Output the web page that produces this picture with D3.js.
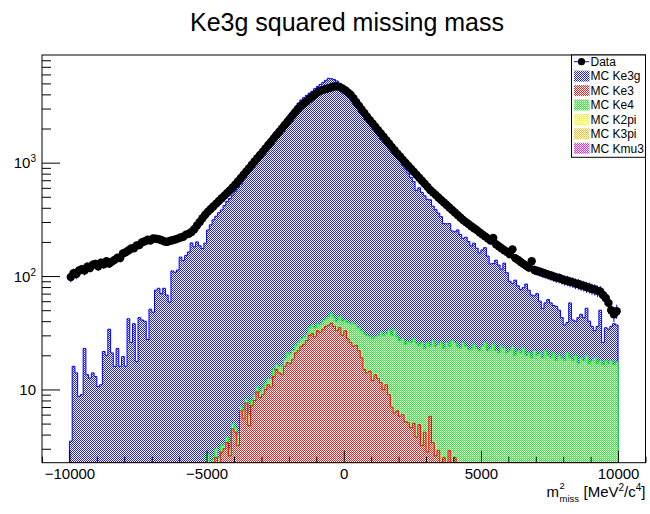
<!DOCTYPE html>
<html><head><meta charset="utf-8">
<script src="https://cdn.jsdelivr.net/npm/d3@7"></script>
<style>
body{margin:0;background:#fff}
svg{display:block}
text{font-family:"Liberation Sans",Arial,Helvetica,sans-serif;fill:#000}
</style>
</head><body>
<svg id="c" width="650" height="514"></svg>
<script>
// Histogram binning: 200 bins of 100 MeV^2/c^4 from -10000 to 10000
const binLow = -10000, binWidth = 100, nBins = 200;

// Data counts per bin
const data = [
  98,106,104,112,115,112,121,118,126,128,
  122,131,127,135,129,134,139,145,144,158,
  162,168,175,176,186,188,199,203,209,206,
  215,213,211,208,203,200,204,207,210,214,
  219,222,232,236,245,259,279,300,323,347,
  370,390,412,435,459,485,512,541,570,603,
  641,686,733,783,838,895,957,1023,1094,1169,
  1250,1337,1432,1531,1637,1752,1875,2005,2147,2296,
  2455,2630,2812,3006,3184,3327,3483,3648,3811,3990,
  4169,4305,4385,4457,4539,4624,4699,4732,4656,4519,
  4345,4169,3981,3698,3428,3184,2951,2742,2541,2373,
  2218,2071,1936,1808,1690,1578,1475,1377,1288,1203,
  1132,1064,1000,942,885,832,783,736,692,652,
  612,575,547,520,493,469,446,424,403,383,
  363,345,328,312,299,287,275,264,254,243,
  233,224,215,206,217,191,183,176,169,163,
  156,172,144,139,133,128,123,119,135,113,
  111,109,107,105,103,101,99,97,96,94,
  92,91,89,88,86,85,83,82,80,79,
  77,76,74,73,68,64,58,50,46,49
];

// MC Ke3g (signal) per bin
const ke3g = [
  3.5,16,14,8.7,9,23,13.5,12.6,14,13,
  10.6,11,21.6,20,34,21,16,23,16,19.5,
  16,42,26,38,17.6,43,41,40,27.6,51,
  48,75,78,70,78,68,59,111,108,113,
  147,137,152,163,196,181,200,185,175,195,
  252,283,311,334,360,380,415,452,479,513,
  555,605,640,715,790,848,921,1000,1087,1160,
  1287,1398,1519,1631,1770,1876,2014,2163,2290,2489,
  2673,2868,3078,3330,3544,3712,3886,4067,4220,4456,
  4661,4861,5065,5279,5502,5453,5357,5210,4956,4670,
  4344,4044,3764,3501,3252,3027,2818,2624,2442,2252,
  2056,1881,1720,1568,1481,1398,1316,1232,1147,1075,
  1006,929,854,781,715,653,545,576,521,487,
  449,446,386,361,334,308,267,263,266,223,
  220,231,210,189,196,179,162,170,153,138,
  146,152,128,105,104,116,104,91,107,86,
  68,62,72,60,55,56,65,54,49,45,
  50,39,33,36,42,39,34,36,30,24,
  19,18,39,23,20,26,27,25,32,23,
  18,14,19,32,9.5,17,17,18,21.5,19.5
];

// MC Ke3 per bin
const ke3 = [
  0,0,0,0,0,0,0,0,0,0,
  0,0,0,0,0,0,0,0,0,0,
  0,0,0,0,0,0,0,0,0,0,
  0,0,0,0,0,0,0,0,0,0,
  0,0,0,0,0,0,0,0,0,0,
  0,0,0,2.5,0,2.8,3.0,3.4,2.6,4.5,
  4.2,3.2,6.5,5.5,7.6,4.8,7.2,8.0,9.5,8.5,
  9.0,10,11,10.5,13,15,14,13.5,16,17.3,
  17,18.5,21,22,24,25,27,30,31,29,
  33,32,34,36,37,38.5,36,33,35,30,
  33,28,26,24,24.5,22,19,15,14,14.5,
  12,13.5,12.5,11.5,10,11,9,7,6.2,6.5,
  5.8,6,5.2,5.1,4.6,5,3.8,4.9,3.2,4.2,
  2.8,5.8,3.4,2.6,2.9,0,2.5,0,2.9,0,
  2.5,0,0,0,0,0,0,0,0,0,
  0,0,0,0,0,0,0,0,0,0,
  0,0,0,0,0,0,0,0,0,0,
  0,0,0,0,0,0,0,0,0,0,
  0,0,0,0,0,0,0,0,0,0,
  0,0,0,0,0,0,0,0,0,0
];

// MC Ke4 per bin
const ke4 = [
  0,0,0,0,0,0,0,0,0,0,
  0,0,0,0,0,0,0,0,0,0,
  0,0,0,0,0,0,0,0,0,0,
  0,0,0,0,0,0,0,0,0,0,
  0,0,0,0,0,0,0,0,0,0,
  2.7,0,2.4,0.5,2.5,0.4,0.3,0.4,0.4,0.5,
  0.4,0.8,0.5,1.0,0.6,1.2,0.8,1.0,1.0,1.0,
  1.3,1.4,1.5,2.0,2.0,1.5,2.0,2.5,2.5,3.7,
  3.5,3.5,3.5,4,4,4,4,5,6,6,
  5,5.5,6,6,7,8.5,7,7,9,10,
  8,11,12,14.6,12.5,13,14,16,16,15,
  16,15.5,17.5,20.5,20,20,24.5,23,27.3,22.5,
  21.2,22,19.8,21.4,21.4,23,21.7,19.6,22.7,18.8,
  23.2,18.2,23.6,21.4,22.1,26,20.5,25.9,21.1,27,
  23.4,24,23,26,24,22.6,22.6,25,23,22,
  24,26,22,23,25,22,21,24,23,21,
  22,24,20,22,21,23,20,21,19,22,
  20,21,19,22,20,19,21,18,20,19,
  18,21,19,18,20,17,19,18,20,17,
  18,19,17,18,16.5,18,17,18,16.5,17.5
];

const xMajorTicks = [-10000, -5000, 0, 5000, 10000];
const xMinorTicks = d3.range(-11000, 11001, 1000).filter(v => v % 5000 !== 0);
const yMajorTicks = [10, 100, 1000];
const yMinorTicks = [3,4,5,6,7,8,9,20,30,40,50,60,70,80,90,200,300,400,500,600,700,800,900,2000,3000,4000,5000,6000,7000,8000];
const yTickExponents = ["", "2", "3"];

const legendLabels = ["Data", "MC Ke3g", "MC Ke3", "MC Ke4", "MC K2pi", "MC K3pi", "MC Kmu3"];
const legendColors = [null, "#0000ff", "#ff0000", "#00ff00", "#ffff00", "#ffb400", "#ff00ff"];

const title = "Ke3g squared missing mass";

// ---- layout ----
const frame = {l: 42, r: 645.5, t: 55, b: 462.7};
const svg = d3.select("#c");

const x = d3.scaleLinear().domain([-11000, 11000]).range([frame.l, frame.r]);
const y = d3.scaleLog().domain([2.26, 8900]).range([frame.b, frame.t]);

// checkered fill patterns (coloured pixels softened slightly towards white)
const defs = svg.append("defs");
function checker(id, col) {
  const dot = d3.interpolateRgb(col, "#fff")(0.12);
  const p = defs.append("pattern").attr("id", id)
    .attr("width", 2).attr("height", 2).attr("patternUnits", "userSpaceOnUse");
  p.append("rect").attr("width", 2).attr("height", 2).attr("fill", "#fff")
    .attr("shape-rendering", "crispEdges");
  p.append("rect").attr("width", 1).attr("height", 1).attr("fill", dot)
    .attr("shape-rendering", "crispEdges");
  p.append("rect").attr("x", 1).attr("y", 1).attr("width", 1).attr("height", 1).attr("fill", dot)
    .attr("shape-rendering", "crispEdges");
}
legendColors.forEach((c, i) => { if (c) checker("pat" + i, c); });

defs.append("clipPath").attr("id", "frameClip").append("rect")
  .attr("x", frame.l).attr("y", frame.t)
  .attr("width", frame.r - frame.l).attr("height", frame.b - frame.t);

// ---- stacked MC ----
const binEdges = d3.range(nBins).map(i => binLow + i * binWidth);
const rows = binEdges.map((lo, i) => ({lo, ke3: ke3[i], ke4: ke4[i], ke3g: ke3g[i]}));
const layers = d3.stack().keys(["ke3", "ke4", "ke3g"])(rows);

function histPath(tops) {
  const ymin = y.domain()[0];
  const p = d3.path();
  p.moveTo(x(binLow), frame.b);
  tops.forEach((v, i) => {
    const yy = v > ymin ? y(v) : frame.b;
    p.lineTo(x(binEdges[i]), yy);
    p.lineTo(x(binEdges[i] + binWidth), yy);
  });
  p.lineTo(x(binLow + nBins * binWidth), frame.b);
  p.closePath();
  return p.toString();
}

const plot = svg.append("g").attr("clip-path", "url(#frameClip)");
const layerStyle = {ke3g: 1, ke4: 3, ke3: 2};
["ke3g", "ke4", "ke3"].forEach(key => {
  const layer = layers.find(l => l.key === key);
  const tops = layer.map(d => d[1]);
  plot.append("path")
    .attr("d", histPath(tops))
    .attr("fill", "url(#pat" + layerStyle[key] + ")")
    .attr("stroke", legendColors[layerStyle[key]])
    .attr("stroke-width", 1)
    .attr("stroke-linejoin", "miter");
});

// ---- data points with errors ----
const pts = data.map((v, i) => ({lo: binEdges[i], v}));
const errG = plot.append("g").attr("stroke", "#0000ff").attr("stroke-width", 1);
errG.selectAll("line.v").data(pts).join("line").attr("class", "v")
  .attr("x1", d => x(d.lo + binWidth / 2)).attr("x2", d => x(d.lo + binWidth / 2))
  .attr("y1", d => y(d.v + Math.sqrt(d.v))).attr("y2", d => y(Math.max(d.v - Math.sqrt(d.v), 2.3)));
errG.selectAll("line.h").data(pts).join("line").attr("class", "h")
  .attr("x1", d => x(d.lo)).attr("x2", d => x(d.lo + binWidth))
  .attr("y1", d => y(d.v)).attr("y2", d => y(d.v));
plot.append("g").selectAll("circle").data(pts).join("circle")
  .attr("cx", d => x(d.lo + binWidth / 2)).attr("cy", d => y(d.v))
  .attr("r", 4.2).attr("fill", "#000");

// ---- frame ----
svg.append("rect").attr("x", frame.l).attr("y", frame.t)
  .attr("width", frame.r - frame.l).attr("height", frame.b - frame.t)
  .attr("fill", "none").attr("stroke", "#000").attr("stroke-width", 1);

// ---- axes ----
const fmtX = d => d < 0 ? "\u2212" + Math.abs(d) : String(d);
const xAxisMajor = svg.append("g").attr("transform", `translate(0,${frame.b})`)
  .call(d3.axisBottom(x).tickValues(xMajorTicks).tickSize(-12).tickPadding(6).tickFormat(fmtX));
const xAxisMinor = svg.append("g").attr("transform", `translate(0,${frame.b})`)
  .call(d3.axisBottom(x).tickValues(xMinorTicks).tickSize(-6).tickFormat(""));
const yAxisMajor = svg.append("g").attr("transform", `translate(${frame.l},0)`)
  .call(d3.axisLeft(y).tickValues(yMajorTicks).tickSize(-18).tickFormat(""));
const yAxisMinor = svg.append("g").attr("transform", `translate(${frame.l},0)`)
  .call(d3.axisLeft(y).tickValues(yMinorTicks).tickSize(-9).tickFormat(""));
[xAxisMajor, xAxisMinor, yAxisMajor, yAxisMinor].forEach(g => {
  g.select(".domain").remove();
  g.selectAll(".tick line").attr("stroke", "#000");
});
xAxisMajor.selectAll(".tick text").attr("font-size", 15)
  .attr("font-family", "Liberation Sans, Arial, sans-serif").attr("fill", "#000");

// y labels as powers of ten
yMajorTicks.forEach((v, i) => {
  const t = svg.append("text").attr("x", 36).attr("y", y(v) + 5.5)
    .attr("text-anchor", "end").attr("font-size", 15);
  t.append("tspan").text("10");
  if (yTickExponents[i]) {
    t.append("tspan").attr("dy", -6).attr("font-size", 10).text(yTickExponents[i]);
  }
});

// ---- titles ----
svg.append("text").attr("x", 347).attr("y", 31).attr("text-anchor", "middle")
  .attr("font-size", 25).text(title);

// x-axis title: m^2_miss [MeV^2/c^4], with the exponent stacked over the subscript
const xtBase = 497;
const xt = svg.append("g");
const xm = xt.append("text").attr("x", 0).attr("y", xtBase).attr("font-size", 15).text("m");
const mW = xm.node().getComputedTextLength();
xt.append("text").attr("x", mW + 0.5).attr("y", xtBase - 8).attr("font-size", 9.5).text("2");
const xs = xt.append("text").attr("x", mW + 0.5).attr("y", xtBase + 5).attr("font-size", 9.5).text("miss");
const sW = xs.node().getComputedTextLength();
const gap = 5;
const unit = xt.append("text").attr("x", mW + sW + gap).attr("y", xtBase).attr("font-size", 15);
unit.append("tspan").text("[MeV");
unit.append("tspan").attr("dy", -6).attr("font-size", 10).text("2");
unit.append("tspan").attr("dy", 6).text("/c");
unit.append("tspan").attr("dy", -6).attr("font-size", 10).text("4");
unit.append("tspan").attr("dy", 6).text("]");
const totalW = mW + sW + gap + unit.node().getComputedTextLength();
xt.attr("transform", `translate(${frame.r - totalW},0)`);

// ---- legend ----
const lg = {x0: 571.5, y0: 55, x1: frame.r, y1: 157.3};
svg.append("rect").attr("x", lg.x0).attr("y", lg.y0)
  .attr("width", lg.x1 - lg.x0).attr("height", lg.y1 - lg.y0)
  .attr("fill", "#fff").attr("stroke", "#000").attr("stroke-width", 1);
const rowStep = 14.43;
legendLabels.forEach((lab, i) => {
  const cy = 61.7 + rowStep * i;
  if (i === 0) {
    svg.append("line").attr("x1", 574).attr("x2", 589).attr("y1", cy).attr("y2", cy)
      .attr("stroke", "#0000ff").attr("stroke-width", 1);
    svg.append("circle").attr("cx", 581.5).attr("cy", cy).attr("r", 3.6).attr("fill", "#000");
  } else {
    svg.append("rect").attr("x", 574).attr("y", cy - 5.5).attr("width", 15.5).attr("height", 11)
      .attr("fill", "url(#pat" + i + ")");
  }
  svg.append("text").attr("x", 590.5).attr("y", cy + 4.3).attr("font-size", 12).text(lab);
});
</script>
</body></html>
